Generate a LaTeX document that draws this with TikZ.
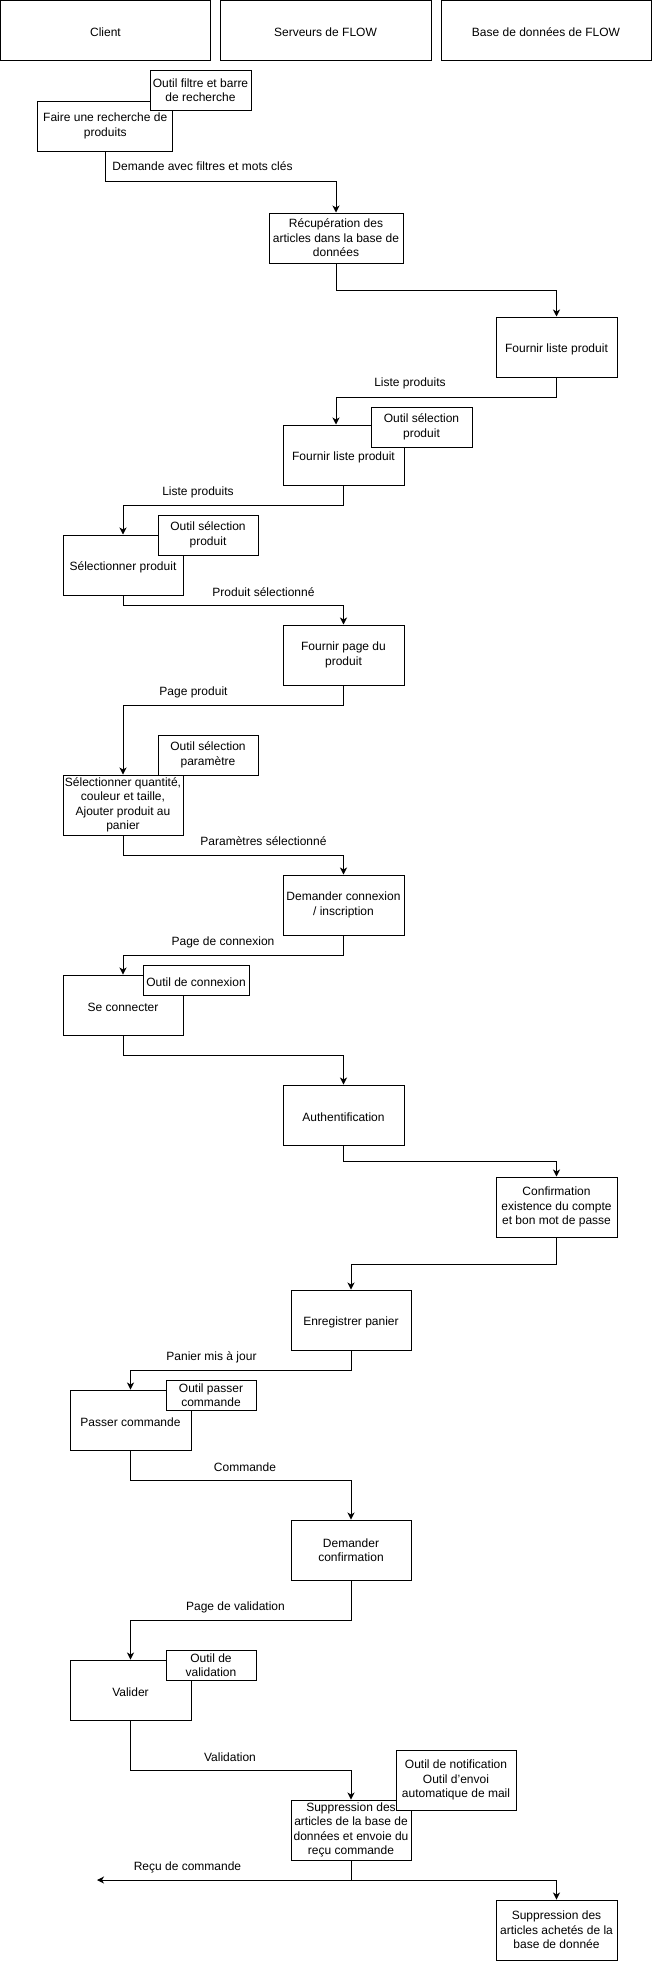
\documentclass[tikz,border=0pt]{standalone}
\usepackage{fontspec}
\setmainfont{Liberation Sans}
\usetikzlibrary{arrows.meta,calc}
\begin{document}
\begin{tikzpicture}[x=1pt,y=-1pt,
  box/.style={draw=black,fill=white,line width=1pt,inner sep=1pt,align=center,
    font=\fontsize{12}{14.5}\selectfont,execute at begin node={\rule{0pt}{12.5pt}}},
  lbl/.style={inner sep=0pt,font=\fontsize{12}{14.5}\selectfont},
  arr/.style={draw=black,line width=1pt,-{Stealth[length=7pt,width=7pt,inset=2pt]}}]
\useasboundingbox (0,0) rectangle (652,1962);
% headers
\node[box,minimum width=210,minimum height=60] (client) at (105.5,30.5) {Client};
\node[box,minimum width=211,minimum height=60] (serv) at (325.5,30.5) {Serveurs de FLOW};
\node[box,minimum width=210,minimum height=60] (base) at (546,30.5) {Base de données de FLOW};
% boxes
\node[box,minimum width=135,minimum height=50] (faire) at (105.25,126) {Faire une recherche de\\produits};
\node[box,minimum width=101,minimum height=40] (ofiltre) at (200.5,90) {Outil filtre et barre\\de recherche};
\node[box,minimum width=134,minimum height=50] (recup) at (336,238) {Récupération des\\articles dans la base de\\données};
\node[box,minimum width=121,minimum height=60] (flpdb) at (556.5,347) {Fournir liste produit};
\node[box,minimum width=121,minimum height=60] (flp) at (343.5,455) {Fournir liste produit};
\node[box,minimum width=101,minimum height=40] (osp1) at (421.5,427) {Outil sélection\\produit};
\node[box,minimum width=120,minimum height=60] (selprod) at (123,565) {Sélectionner produit};
\node[box,minimum width=100,minimum height=40] (osp2) at (208,535) {Outil sélection\\produit};
\node[box,minimum width=121,minimum height=60] (fpage) at (343.5,655) {Fournir page du\\produit};
\node[box,minimum width=100,minimum height=40] (oparam) at (208,755) {Outil sélection\\paramètre};
\node[box,minimum width=120,minimum height=60] (selqty) at (123,805) {Sélectionner quantité,\\couleur et taille,\\Ajouter produit au\\panier};
\node[box,minimum width=121,minimum height=60] (demconn) at (343.5,905) {Demander connexion\\/ inscription};
\node[box,minimum width=120,minimum height=60] (seconn) at (123,1005) {Se connecter};
\node[box,minimum width=106,minimum height=30] (oconn) at (196,980) {Outil de connexion};
\node[box,minimum width=121,minimum height=60] (auth) at (343.5,1115) {Authentification};
\node[box,minimum width=121,minimum height=60] (confirm) at (556.5,1207) {Confirmation\\existence du compte\\et bon mot de passe};
\node[box,minimum width=120,minimum height=60] (enreg) at (351,1320) {Enregistrer panier};
\node[box,minimum width=121,minimum height=60] (passer) at (130.5,1420) {Passer commande};
\node[box,minimum width=90,minimum height=30] (opasser) at (211,1395) {Outil passer\\commande};
\node[box,minimum width=120,minimum height=60] (demconf) at (351,1550) {Demander\\confirmation};
\node[box,minimum width=121,minimum height=60] (valider) at (130.5,1690) {Valider};
\node[box,minimum width=90,minimum height=30] (ovalid) at (211,1665) {Outil de\\validation};
\node[box,minimum width=120,minimum height=60] (suppr) at (351,1830) {Suppression des\\articles de la base de\\données et envoie du\\reçu commande};
\node[box,minimum width=120,minimum height=60] (onotif) at (456,1780) {Outil de notification\\Outil d’envoi\\automatique de mail};
\node[box,minimum width=121,minimum height=60] (suppr2) at (556.5,1930) {Suppression des\\articles achetés de la\\base de donnée};
\coordinate (recu) at (97,1880);
% connectors
\draw[arr] (faire.south) -- ++(0,30) -| (recup.north);
\draw[arr] (recup.south) -- ++(0,27) -| (flpdb.north);
\draw[arr] (flpdb.south) -- ++(0,20) -| (recup.south |- flp.north);
\draw[arr] (flp.south) -- ++(0,20) -| (selprod.north);
\draw[arr] (selprod.south) -- ++(0,10) -| (fpage.north);
\draw[arr] (fpage.south) -- ++(0,20) -| (selqty.north);
\draw[arr] (selqty.south) -- ++(0,20) -| (demconn.north);
\draw[arr] (demconn.south) -- ++(0,20) -| (seconn.north);
\draw[arr] (seconn.south) -- ++(0,20) -| (auth.north);
\draw[arr] (auth.south) -- ++(0,16) -| (confirm.north);
\draw[arr] (confirm.south) -- ++(0,27) -| (enreg.north);
\draw[arr] (enreg.south) -- ++(0,20) -| (passer.north);
\draw[arr] (passer.south) -- ++(0,30) -| (demconf.north);
\draw[arr] (demconf.south) -- ++(0,40) -| (valider.north);
\draw[arr] (valider.south) -- ++(0,50) -| (suppr.north);
\draw[arr] (suppr.south) -- (suppr.south |- recu) -- (recu);
\draw[arr] (suppr.south |- recu) -| (suppr2.north);
% labels
\node[lbl] (l1) at (202.5,166) {Demande avec filtres et mots clés};
\node[lbl] (l2) at (410,383) {Liste produits};
\node[lbl] (l3) at (198,492) {Liste produits};
\node[lbl] (l4) at (263.5,592) {Produit sélectionné};
\node[lbl] (l5) at (193.5,692) {Page produit};
\node[lbl] (l6) at (263.5,841) {Paramètres sélectionné};
\node[lbl] (l7) at (223,942) {Page de connexion};
\node[lbl] (l8) at (211.5,1357) {Panier mis à jour};
\node[lbl] (l9) at (245,1467) {Commande};
\node[lbl] (l10) at (235.5,1607) {Page de validation};
\node[lbl] (l11) at (230,1757) {Validation};
\node[lbl] (l12) at (187.5,1867) {Reçu de commande};
\end{tikzpicture}
\end{document}
